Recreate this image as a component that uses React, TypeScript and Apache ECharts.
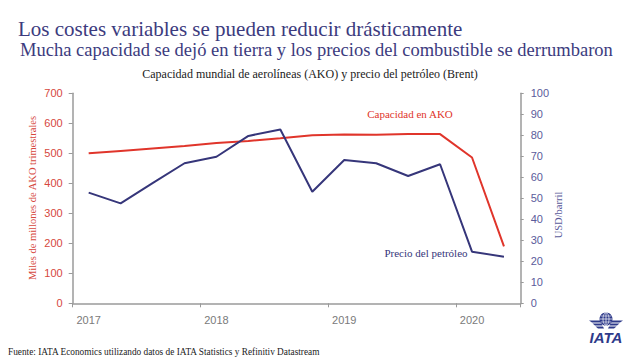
import React, { useEffect, useRef } from "react";
import * as echarts from "echarts";

const quarters = ["2017T1","2017T2","2017T3","2017T4","2018T1","2018T2","2018T3","2018T4","2019T1","2019T2","2019T3","2019T4","2020T1","2020T2"];
const capacity = [500, 508, 516, 524, 534, 541, 550, 560, 563, 562, 564, 564, 486, 190];
const oilPrice = [52.7, 47.6, 57.2, 66.7, 69.8, 79.7, 82.8, 53.1, 68.2, 66.7, 60.6, 66.2, 24.6, 22.2];
const yearTicks = [2017, 2018, 2019, 2020];

const quarterPos = (q: string) => Number(q.slice(0, 4)) + (Number(q.slice(5)) - 0.5) / 4;

const TITLE = "#3c3b7e";
const RED = "#e0352b";
const BLUE = "#36367a";
const LOGO = "#2e3a8a";

export default function App() {
  const ref = useRef<HTMLDivElement>(null);
  useEffect(() => {
    const chart = echarts.init(ref.current!, null, { renderer: "svg" });
    const wingL = [
      [[589, 320.5], [600, 320.5], [601, 322.5], [592, 322.5]],
      [[592.5, 323.5], [601.5, 323.5], [602.5, 325.5], [595, 325.5]],
      [[595.5, 326.5], [603, 326.5], [604, 328.5], [598, 328.5]],
    ];
    const wings: any[] = [];
    wingL.forEach((pts) => {
      wings.push({ type: "polygon", shape: { points: pts }, style: { fill: LOGO } });
      wings.push({ type: "polygon", shape: { points: pts.map(([x, y]) => [1212 - x, y]) }, style: { fill: LOGO } });
    });
    chart.setOption({
      animation: false,
      grid: { left: 72.7, right: 119.3, top: 93.3, bottom: 59.7 },
      xAxis: {
        type: "value",
        min: yearTicks[0],
        max: 2020.506,
        interval: 1,
        axisLine: { lineStyle: { color: "#9a9a9a", width: 1.5 } },
        axisTick: { length: 4, lineStyle: { color: "#9a9a9a" } },
        splitLine: { show: false },
        axisLabel: {
          margin: 11,
          color: "#7a7a7a",
          fontFamily: "Liberation Sans",
          fontSize: 11,
          formatter: (v: number) => (yearTicks.includes(v) ? "{a|" + v + "}" : ""),
          rich: { a: { padding: [0, 0, 0, 32], color: "#7a7a7a", fontFamily: "Liberation Sans", fontSize: 11 } },
        },
      },
      yAxis: [
        {
          type: "value",
          min: 0,
          max: 700,
          interval: 100,
          position: "left",
          axisLine: { show: true, lineStyle: { color: "#9a9a9a", width: 1.5 } },
          axisTick: { show: true, length: 4, lineStyle: { color: "#9a9a9a" } },
          splitLine: { show: false },
          axisLabel: { margin: 10, color: "#d6473d", fontFamily: "Liberation Sans", fontSize: 11 },
        },
        {
          type: "value",
          min: 0,
          max: 100,
          interval: 10,
          position: "right",
          axisLine: { show: true, lineStyle: { color: "#9a9a9a", width: 1.5 } },
          axisTick: { show: true, length: 3, lineStyle: { color: "#9a9a9a" } },
          splitLine: { show: false },
          axisLabel: { margin: 10, color: "#5b5b9b", fontFamily: "Liberation Sans", fontSize: 11 },
        },
      ],
      series: [
        {
          type: "line",
          yAxisIndex: 0,
          data: quarters.map((q, i) => [quarterPos(q), capacity[i]]),
          symbol: "none",
          lineStyle: { color: RED, width: 2 },
        },
        {
          type: "line",
          yAxisIndex: 1,
          data: quarters.map((q, i) => [quarterPos(q), oilPrice[i]]),
          symbol: "none",
          lineStyle: { color: BLUE, width: 2 },
        },
      ],
      graphic: [
        { type: "text", x: 18, y: 28.5, style: { text: "Los costes variables se pueden reducir drásticamente", fill: TITLE, font: "21px 'Liberation Serif'", verticalAlign: "middle" } },
        { type: "text", x: 20, y: 49.5, style: { text: "Mucha capacidad se dejó en tierra y los precios del combustible se derrumbaron", fill: TITLE, font: "18.5px 'Liberation Serif'", verticalAlign: "middle" } },
        { type: "text", x: 310, y: 73.5, style: { text: "Capacidad mundial de aerolíneas (AKO) y precio del petróleo (Brent)", fill: "#1a1a1a", font: "12px 'Liberation Serif'", align: "center", verticalAlign: "middle" } },
        { type: "text", x: 32, y: 198, rotation: Math.PI / 2, style: { text: "Miles de millones de AKO trimestrales", fill: "#d6473d", font: "10.5px 'Liberation Serif'", align: "center", verticalAlign: "middle" } },
        { type: "text", x: 558, y: 215, rotation: Math.PI / 2, style: { text: "USD/barril", fill: "#5b5b9b", font: "10.5px 'Liberation Serif'", align: "center", verticalAlign: "middle" } },
        { type: "text", x: 410, y: 114, style: { text: "Capacidad en AKO", fill: RED, font: "11px 'Liberation Serif'", align: "center", verticalAlign: "middle" } },
        { type: "text", x: 426, y: 253, style: { text: "Precio del petróleo", fill: BLUE, font: "11px 'Liberation Serif'", align: "center", verticalAlign: "middle" } },
        { type: "text", x: 8, y: 352, style: { text: "Fuente: IATA Economics utilizando datos de IATA Statistics y Refinitiv Datastream", fill: "#222", font: "9.3px 'Liberation Serif'", verticalAlign: "middle" } },
        { type: "circle", shape: { cx: 606, cy: 319, r: 6.5 }, style: { fill: LOGO } },
        { type: "ellipse", shape: { cx: 606, cy: 319, rx: 3, ry: 6.3 }, style: { fill: "none", stroke: "#fff", lineWidth: 0.7 } },
        { type: "line", shape: { x1: 606, y1: 312.7, x2: 606, y2: 325.3 }, style: { stroke: "#fff", lineWidth: 0.7 } },
        { type: "line", shape: { x1: 599.7, y1: 319, x2: 612.3, y2: 319 }, style: { stroke: "#fff", lineWidth: 0.7 } },
        { type: "line", shape: { x1: 600.6, y1: 316, x2: 611.4, y2: 316 }, style: { stroke: "#fff", lineWidth: 0.6 } },
        { type: "line", shape: { x1: 600.6, y1: 322, x2: 611.4, y2: 322 }, style: { stroke: "#fff", lineWidth: 0.6 } },
        ...wings,
        { type: "text", x: 606, y: 337.5, style: { text: "IATA", fill: LOGO, font: "italic bold 15px 'Liberation Sans'", align: "center", verticalAlign: "middle" } },
      ],
    });
    return () => chart.dispose();
  }, []);
  return <div ref={ref} style={{ width: 640, height: 363, position: "absolute", left: 0, top: 0 }} />;
}
